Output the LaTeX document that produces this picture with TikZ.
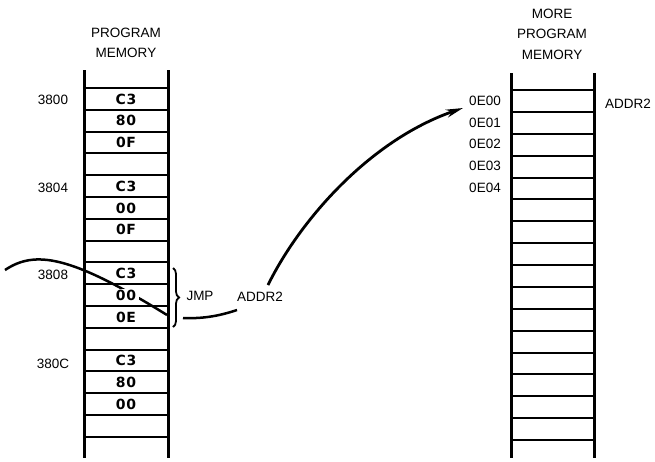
\documentclass[tikz,border=0pt]{standalone}
\usepackage{fontspec}
\setmainfont{Liberation Sans}
\newfontfamily\cellfont[LetterSpace=4]{DejaVu Sans}
\usetikzlibrary{arrows.meta,decorations.pathreplacing}
\begin{document}
\begin{tikzpicture}[x=1pt,y=-1pt,
  lbl/.style={font=\fontsize{13.5}{20.5}\selectfont, inner sep=0pt},
  title/.style={lbl, align=center},
  cell/.style={font=\cellfont\bfseries\fontsize{14}{15}\selectfont, inner xsep=3pt, inner ysep=1pt, fill=white},
  rail/.style={line width=3pt},
  rung/.style={line width=2pt},
  flow/.style={line width=2.5pt},
  arrow/.style={line width=2.8pt, -{Stealth[length=17pt,width=8pt]}},
  brace/.style={line width=1.8pt, decorate, decoration={brace, amplitude=6pt}}
]
\useasboundingbox (0,0) rectangle (655,461);

% program memory
\node[title] (pm) at (126,43) {PROGRAM\\MEMORY};
\draw[rail] (84,70) -- (84,458);
\draw[rail] (168,70) -- (168,458);
\foreach \i in {0,...,16}
  \draw[rung] (84,88+21.8*\i) -- (168,88+21.8*\i);

\node[lbl] (a3800) at (53,100) {3800};
\node[lbl] (a3804) at (53,188) {3804};
\node[lbl] (a3808) at (53,275) {3808};
\node[lbl] (a380C) at (53,364) {380C};

% more program memory
\node[title] (mpm) at (552,34) {MORE\\PROGRAM\\MEMORY};
\draw[rail] (511,73) -- (511,458);
\draw[rail] (594,73) -- (594,458);
\foreach \i in {0,...,16}
  \draw[rung] (511,90+21.875*\i) -- (594,90+21.875*\i);

\foreach \a [count=\i from 0] in {0E00,0E01,0E02,0E03,0E04}
  \node[lbl] (e\i) at (485,101+21.6*\i) {\a};
\node[lbl] (target) at (628,104) {ADDR2};

% jump instruction
\draw[brace] (173,268) -- (173,327);
\node[lbl] (jmp) at (200,296) {JMP};
\node[lbl] (jaddr) at (260,297) {ADDR2};

\coordinate (entry) at (5,270);
\coordinate (brk) at (167,315);
\coordinate (resume) at (183,318);
\coordinate (stop) at (237,310);
\coordinate (start) at (268,285);
\coordinate (tip) at (463,108);

\draw[flow] (entry) .. controls (35,250) and (70,255) .. (brk);
\draw[flow] (resume) .. controls (205,319) and (222,315) .. (stop);
\draw[arrow] (start) .. controls (300,220) and (370,140) .. (tip);

% cell contents
\foreach \v [count=\i from 0] in {C3,80,0F,{},C3,00,0F,{},C3,00,0E,{},C3,80,00,{}}
  \node[cell] (p\i) at (126,98.9+21.8*\i) {\v};
\end{tikzpicture}
\end{document}
